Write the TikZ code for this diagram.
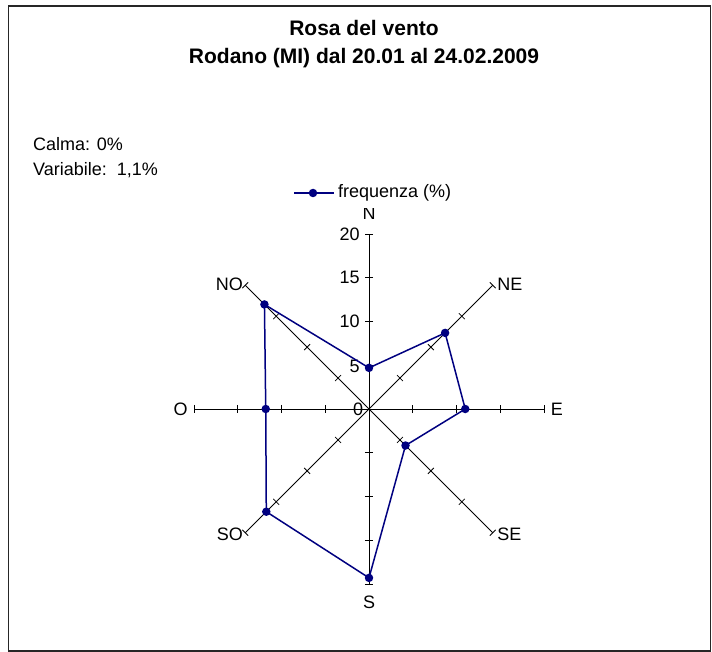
\documentclass[tikz,border=0pt]{standalone}
\usepackage{fontspec}
\setmainfont{Liberation Sans}
\usetikzlibrary{calc}
\begin{document}
\begin{tikzpicture}[x=1pt,y=-1pt,
  lbl/.style={font=\fontsize{18}{20}\selectfont, inner sep=0pt},
  ttl/.style={font=\bfseries\fontsize{21}{28}\selectfont, align=center, inner sep=0pt},
  axisline/.style={draw=black, line width=0.9pt},
  tickline/.style={draw=black, line width=0.8pt},
  serie/.style={draw=navyc, line width=1.5pt},
  dot/.style={circle, fill=navyc, inner sep=0pt, minimum size=8.5pt}]
\definecolor{navyc}{RGB}{0,0,128}
\useasboundingbox (0,0) rectangle (712,652);
\fill[white] (0,0) rectangle (712,652);
\draw[line width=1.3pt, black!85] (8.5,6) rectangle (710.5,651);
% title
\node[ttl] (title) at (364,44) {Rosa del vento\\Rodano (MI) dal 20.01 al 24.02.2009};
\node[lbl, anchor=west] (calma) at (33,144) {Calma: 0\%};
\node[lbl, anchor=west] (var) at (33,170) {Variabile:\ \ 1,1\%};
% rose
\begin{scope}[shift={(369,409)}, x=8.75pt, y=8.75pt]
  \coordinate (c) at (0,0);
  \foreach \a/\nm in {90/N,45/NE,0/E,-45/SE,-90/S,-135/SO,180/O,135/NO}{
    \coordinate (end\nm) at (\a:20);
    \draw[axisline] (c) -- (end\nm);
    \foreach \k in {1,2,3,4}{
      \draw[tickline, rotate=\a] (5*\k,-0.47) -- (5*\k,0.47);
    }
  }
  % value labels
  \node[lbl, anchor=east] (v20) at (-1.05,20) {20};
  \node[lbl, anchor=east] (v15) at (-1.05,15) {15};
  \node[lbl, anchor=east] (v10) at (-1.05,10) {10};
  \node[lbl, anchor=east] (v5) at (-1.05,4.9) {5};
  \node[lbl, anchor=east] (v0) at (-0.65,0) {0};
  % direction labels
  \node[lbl] (lN) at (0,22.35) {N};
  \node[lbl, anchor=west] (lNE) at ($(endNE)+(0.5,0.15)$) {NE};
  \node[lbl, anchor=west] (lE) at ($(endE)+(0.75,0)$) {E};
  \node[lbl, anchor=west] (lSE) at ($(endSE)+(0.5,-0.15)$) {SE};
  \node[lbl] (lS) at (0,-22.05) {S};
  \node[lbl, anchor=east] (lSO) at ($(endSO)+(-0.25,-0.15)$) {SO};
  \node[lbl, anchor=east] (lO) at ($(endO)+(-0.7,0)$) {O};
  \node[lbl, anchor=east] (lNO) at ($(endNO)+(-0.25,0.15)$) {NO};
  % data
  \coordinate (pN) at (90:4.7);
  \coordinate (pNE) at (45:12.3);
  \coordinate (pE) at (0:11.0);
  \coordinate (pSE) at (-45:5.9);
  \coordinate (pS) at (-90:19.3);
  \coordinate (pSO) at (-135:16.6);
  \coordinate (pO) at (180:11.8);
  \coordinate (pNO) at (135:16.9);
  \draw[serie, line join=round] (pN) -- (pNE) -- (pE) -- (pSE) -- (pS) -- (pSO) -- (pO) -- (pNO) -- cycle;
  \foreach \p in {pN,pNE,pE,pSE,pS,pSO,pO,pNO}{
    \node[dot] at (\p) {};
  }
\end{scope}
% legend
\fill[white] (290,180) rectangle (460,208.5);
\coordinate (legA) at (294,193);
\coordinate (legB) at (334,193);
\draw[serie] (legA) -- (legB);
\node[dot] (legdot) at (313,193) {};
\node[lbl, anchor=west] (legtxt) at (338,193) {frequenza (\%)};
\end{tikzpicture}
\end{document}
